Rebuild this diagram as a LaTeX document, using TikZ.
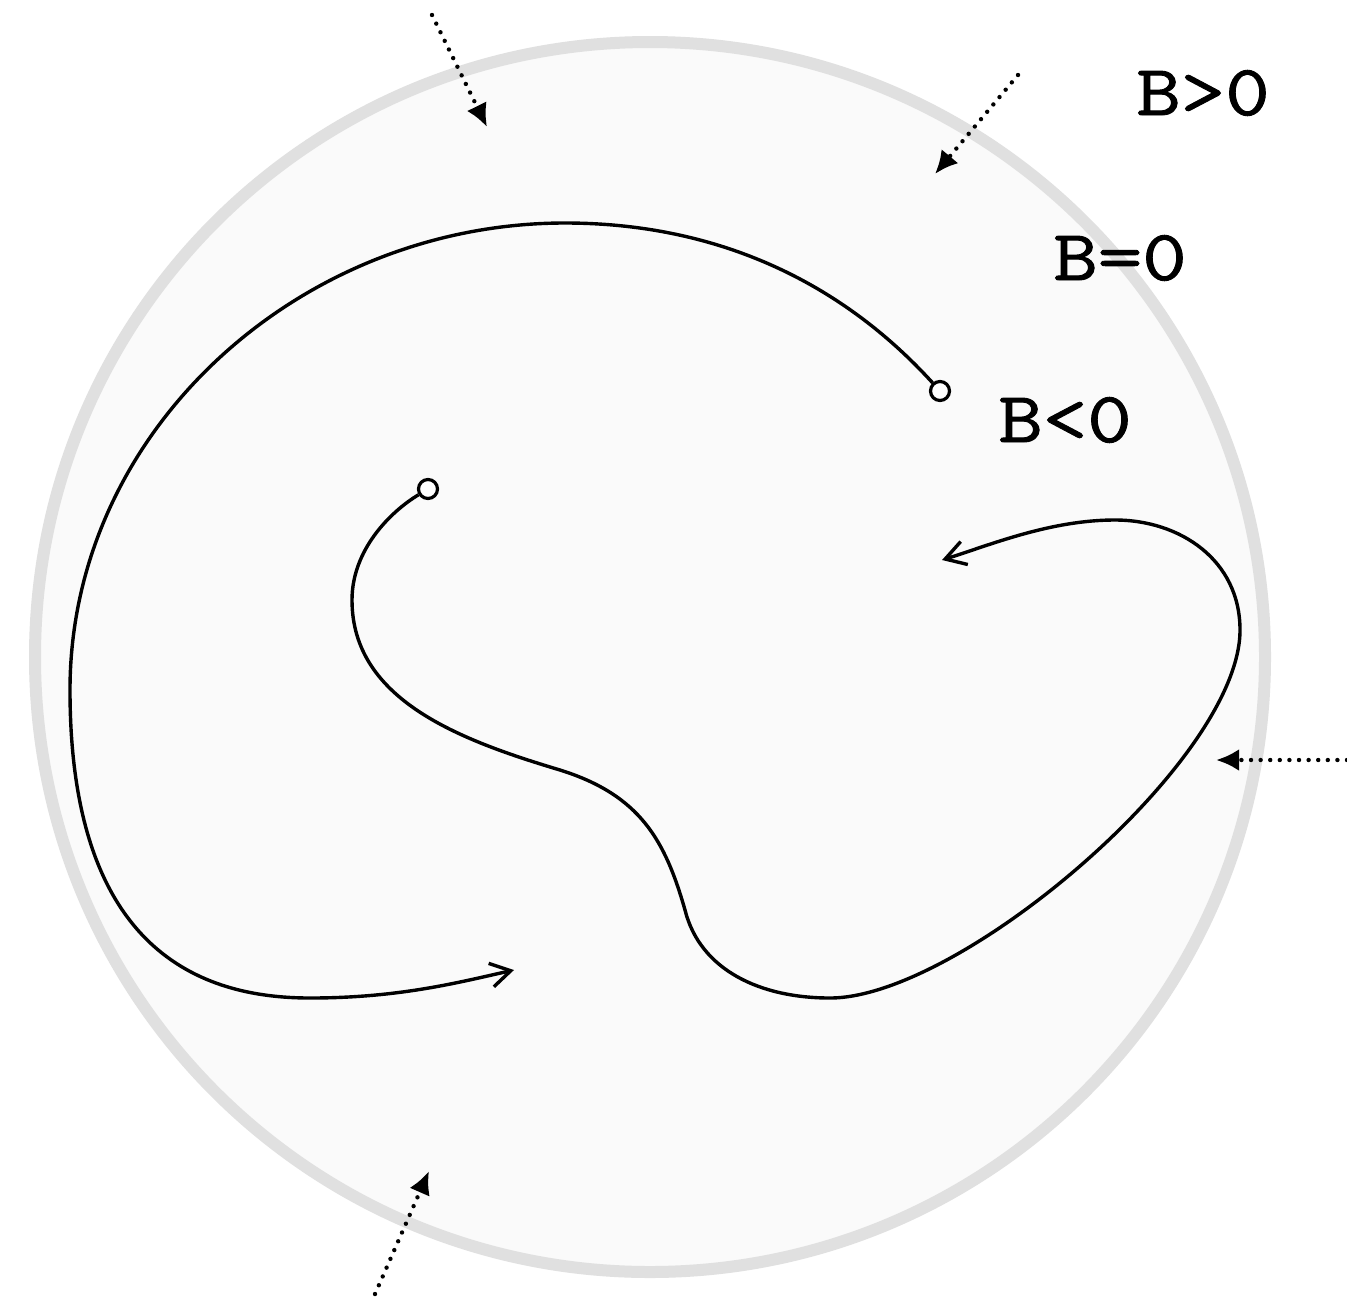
\documentclass[tikz,border=0pt]{standalone}
\usepackage{fontspec}
\usepackage{graphicx}
\usepackage{xcolor}
\usepackage{tikz}
\usetikzlibrary{arrows.meta, calc}
\definecolor{ink}{RGB}{0,0,0}
\definecolor{ringgray}{RGB}{224,224,224}
\definecolor{disc}{RGB}{250,250,250}
\newfontfamily\labfont[FakeBold=1.2]{Latin Modern Mono}
\newcommand{\blab}[1]{\scalebox{1.2}[1]{\labfont\fontsize{36}{40}\selectfont #1}}
\tikzset{
  ring/.style     ={draw=ringgray, line width=6pt, fill=disc},
  flow/.style     ={draw=ink, line width=1.7pt, -{Straight Barb[length=10pt, width=12pt, line width=1.7pt]}},
  inflow/.style   ={draw=ink, line width=2.2pt, line cap=round, dash pattern=on 0pt off 4.8pt, -{Latex[length=11.5pt, width=11pt]}},
  endpt/.style    ={circle, draw=ink, line width=1.6pt, fill=white, minimum size=9.5pt, inner sep=0pt},
  blabel/.style   ={text=ink, anchor=base, inner sep=0pt},
}
\begin{document}
\begin{tikzpicture}[x=0.5pt, y=-0.5pt]
\useasboundingbox (0,0) rectangle (1347,1296);
\fill[white] (0,0) rectangle (1347,1296);

% the disc
\node[ring, circle, minimum size=615pt, inner sep=0pt] (disc) at (650,657) {};

% labels
\node[blabel] (bpos)  at (1203,115) {\blab{B>0}};
\node[blabel] (bzero) at (1120,280) {\blab{B=0}};
\node[blabel] (bneg)  at (1065,442) {\blab{B<0}};

% incoming dotted arrows
\coordinate (in1a) at (432,15);    \coordinate (in1b) at (487,127);
\coordinate (in2a) at (1018,75);   \coordinate (in2b) at (935,174);
\coordinate (in3a) at (1347,760);  \coordinate (in3b) at (1216,760);
\coordinate (in4a) at (375,1294);  \coordinate (in4b) at (429,1171);
\draw[inflow] (in1a) -- (in1b);
\draw[inflow] (in2a) -- (in2b);
\draw[inflow] (in3a) -- (in3b);
\draw[inflow] (in4a) -- (in4b);

% outer trajectory
\node[endpt] (startA) at (940,391) {};
\coordinate (tipA) at (514,970);
\draw[flow] (startA) .. controls (830,270) and (700,223) .. (565,223)
  .. controls (300,223) and (70,430) .. (70,690)
  .. controls (70,950) and (200,998) .. (310,998)
  .. controls (400,998) and (460,982) .. (tipA);

% inner trajectory
\node[endpt] (startB) at (428,489) {};
\coordinate (tipB) at (942,560);
\draw[flow] (startB) .. controls (390,512) and (352,550) .. (352,600)
  .. controls (352,700) and (460,740) .. (560,770)
  .. controls (640,795) and (665,840) .. (685,910)
  .. controls (700,970) and (760,998) .. (830,998)
  .. controls (960,998) and (1240,760) .. (1240,630)
  .. controls (1240,560) and (1180,520) .. (1115,520)
  .. controls (1050,520) and (990,545) .. (tipB);
\end{tikzpicture}
\end{document}
